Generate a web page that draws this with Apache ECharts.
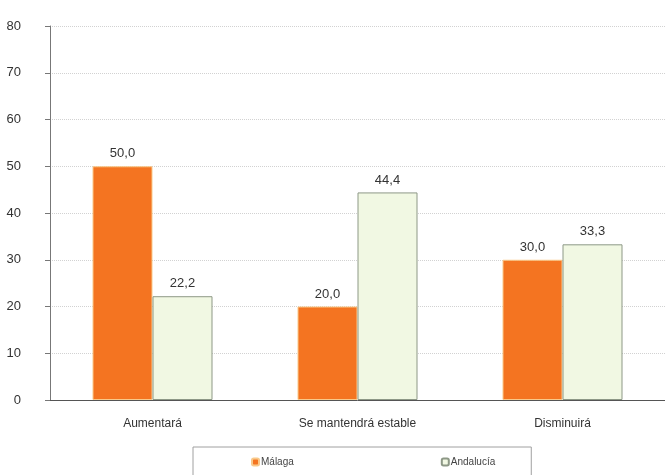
<!DOCTYPE html>
<html>
<head>
<meta charset="utf-8">
<script src="https://cdn.jsdelivr.net/npm/echarts@6/dist/echarts.min.js"></script>
<style>
  html, body { margin: 0; padding: 0; background: #fff; }
  #chart { width: 665px; height: 475px; }
</style>
</head>
<body>
<div id="chart"></div>
<script>
var categories = ['Aumentará', 'Se mantendrá estable', 'Disminuirá'];
var malaga = [50.0, 20.0, 30.0];
var andalucia = [22.2, 44.4, 33.3];
var seriesNames = ['Málaga', 'Andalucía'];

var chart = echarts.init(document.getElementById('chart'));

function fmt(p) {
    return p.value.toFixed(1).replace('.', ',');
}

var option = {
    backgroundColor: '#ffffff',
    textStyle: { fontFamily: 'Liberation Sans, Arial, sans-serif' },
    animation: false,
    grid: {
        left: 50,
        right: 0,
        top: 26,
        bottom: 75
    },
    legend: {
        data: seriesNames,
        left: 193,
        top: 447,
        padding: [10, 36, 20, 58],
        itemGap: 147,
        itemWidth: 7,
        itemHeight: 7,
        borderColor: '#a0a0a0',
        borderWidth: 1,
        textStyle: { fontSize: 10, color: '#444', padding: [0, 0, 0, -3] }
    },
    xAxis: {
        type: 'category',
        data: categories,
        axisLine: { lineStyle: { color: '#555', width: 1 } },
        axisTick: { show: false },
        axisLabel: { color: '#333', fontSize: 12, margin: 18 }
    },
    yAxis: {
        type: 'value',
        min: 0,
        max: 80,
        interval: 10,
        axisLine: { show: true, lineStyle: { color: '#777' } },
        axisTick: { show: true, inside: false, length: 5, lineStyle: { color: '#777' } },
        axisLabel: { color: '#333', fontSize: 13, margin: 29 },
        splitLine: { show: true, lineStyle: { color: '#d2d2d2', type: 'dotted' } }
    },
    series: [
        {
            name: seriesNames[0],
            type: 'bar',
            data: malaga,
            barWidth: 60,
            barGap: '0%',
            itemStyle: { color: '#f47421', borderColor: '#f9c98a', borderWidth: 1 },
            label: { show: true, position: 'top', color: '#333', fontSize: 13, formatter: fmt, distance: 6 }
        },
        {
            name: seriesNames[1],
            type: 'bar',
            data: andalucia,
            barWidth: 60,
            barGap: '0%',
            itemStyle: { color: '#f1f8e3', borderColor: '#8d9886', borderWidth: 1 },
            label: { show: true, position: 'top', color: '#333', fontSize: 13, formatter: fmt, distance: 6 }
        }
    ]
};
chart.setOption(option);
</script>
</body>
</html>
